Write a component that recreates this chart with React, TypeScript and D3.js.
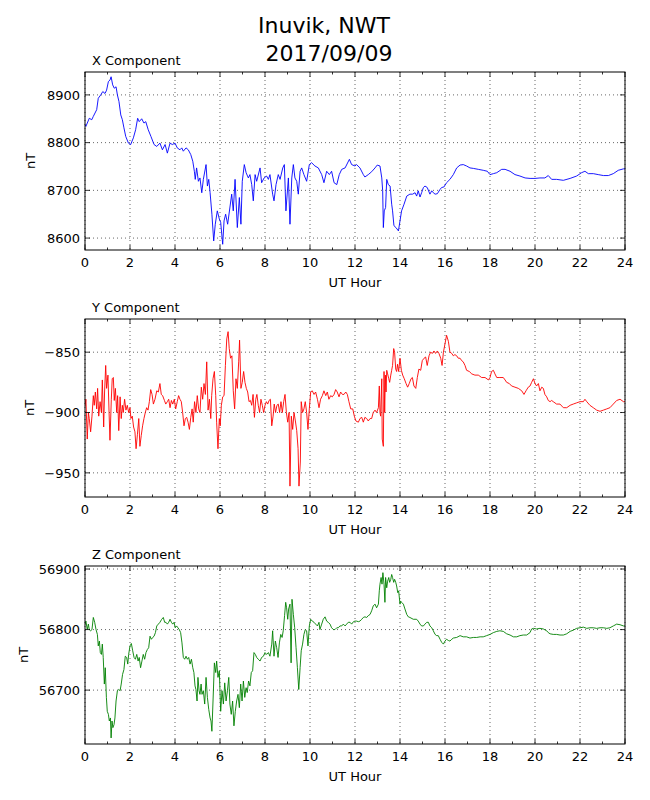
import React from 'react';
import * as d3 from 'd3';

// hourly axis and value ticks
const hourTicks = [0, 2, 4, 6, 8, 10, 12, 14, 16, 18, 20, 22, 24];
const hourMinorTicks = [1, 3, 5, 7, 9, 11, 13, 15, 17, 19, 21, 23];
const xTicks = [8600, 8700, 8800, 8900];
const yTicks = [-950, -900, -850];
const zTicks = [56700, 56800, 56900];

// X component (nT)
const xHours = [0, 0.04, 0.19, 0.3, 0.37, 0.52, 0.59, 0.7, 0.79, 0.89, 0.96, 1.04, 1.11, 1.16, 1.23, 1.3, 1.38, 1.44, 1.51, 1.59, 1.66, 1.73, 1.81, 1.93, 2.03, 2.15, 2.25, 2.34, 2.41, 2.52, 2.62, 2.7, 2.81, 2.93, 3.07, 3.19, 3.33, 3.44, 3.56, 3.66, 3.78, 3.88, 4.0, 4.1, 4.22, 4.3, 4.37, 4.49, 4.59, 4.7, 4.79, 4.86, 4.9, 4.96, 5.04, 5.11, 5.19, 5.26, 5.38, 5.44, 5.5, 5.56, 5.64, 5.72, 5.79, 5.88, 5.97, 6.03, 6.12, 6.18, 6.25, 6.34, 6.52, 6.59, 6.67, 6.77, 6.86, 6.93, 6.99, 7.08, 7.16, 7.26, 7.33, 7.41, 7.48, 7.56, 7.63, 7.78, 7.85, 7.96, 8.07, 8.15, 8.22, 8.34, 8.4, 8.49, 8.59, 8.67, 8.79, 8.86, 8.93, 9.04, 9.11, 9.19, 9.26, 9.33, 9.41, 9.48, 9.56, 9.63, 9.73, 9.85, 9.97, 10.07, 10.22, 10.37, 10.52, 10.62, 10.74, 10.86, 10.96, 11.07, 11.19, 11.3, 11.41, 11.56, 11.75, 11.85, 12.0, 12.07, 12.22, 12.37, 12.44, 12.59, 12.74, 12.89, 12.99, 13.11, 13.19, 13.23, 13.26, 13.3, 13.36, 13.41, 13.48, 13.56, 13.63, 13.67, 13.73, 13.82, 13.93, 14.0, 14.07, 14.18, 14.3, 14.44, 14.56, 14.67, 14.74, 14.81, 14.89, 14.96, 15.04, 15.11, 15.21, 15.33, 15.41, 15.48, 15.56, 15.66, 15.78, 15.85, 15.95, 16.07, 16.22, 16.37, 16.52, 16.67, 16.81, 16.96, 17.11, 17.26, 17.48, 17.7, 17.88, 18.0, 18.15, 18.3, 18.52, 18.67, 18.89, 19.11, 19.33, 19.56, 19.78, 20.0, 20.22, 20.44, 20.59, 20.74, 20.96, 21.26, 21.56, 21.85, 22.07, 22.22, 22.37, 22.59, 22.81, 23.04, 23.26, 23.48, 23.7, 23.93, 24.0];
const xValues = [8838, 8834, 8851, 8848, 8855, 8869, 8893, 8900, 8907, 8903, 8910, 8928, 8931, 8938, 8921, 8914, 8917, 8900, 8886, 8858, 8848, 8831, 8813, 8799, 8796, 8810, 8827, 8851, 8844, 8850, 8841, 8844, 8827, 8813, 8796, 8792, 8799, 8785, 8796, 8778, 8799, 8796, 8799, 8789, 8785, 8789, 8782, 8789, 8785, 8775, 8761, 8740, 8723, 8747, 8719, 8726, 8695, 8723, 8754, 8709, 8723, 8695, 8650, 8594, 8629, 8657, 8640, 8633, 8587, 8636, 8650, 8629, 8692, 8657, 8723, 8622, 8685, 8629, 8719, 8754, 8737, 8726, 8733, 8712, 8678, 8733, 8719, 8747, 8716, 8726, 8730, 8723, 8733, 8692, 8678, 8712, 8733, 8723, 8747, 8754, 8657, 8726, 8629, 8726, 8754, 8726, 8719, 8692, 8740, 8747, 8733, 8719, 8754, 8758, 8751, 8747, 8733, 8716, 8740, 8733, 8740, 8716, 8712, 8733, 8744, 8747, 8765, 8754, 8751, 8754, 8747, 8733, 8728, 8733, 8739, 8747, 8753, 8751, 8726, 8699, 8622, 8657, 8664, 8723, 8712, 8709, 8671, 8657, 8626, 8622, 8615, 8636, 8657, 8671, 8688, 8692, 8692, 8695, 8688, 8699, 8686, 8695, 8706, 8709, 8706, 8692, 8699, 8695, 8692, 8693, 8702, 8706, 8707, 8716, 8723, 8733, 8747, 8753, 8754, 8751, 8747, 8746, 8744, 8742, 8740, 8733, 8735, 8737, 8744, 8744, 8740, 8733, 8730, 8726, 8725, 8725, 8726, 8726, 8731, 8723, 8723, 8721, 8725, 8730, 8737, 8740, 8735, 8735, 8733, 8731, 8731, 8735, 8742, 8745, 8745];

// Y component (nT)
const yHours = [0, 0.04, 0.1, 0.15, 0.19, 0.25, 0.31, 0.37, 0.41, 0.46, 0.52, 0.56, 0.61, 0.67, 0.73, 0.77, 0.83, 0.87, 0.92, 0.96, 1.02, 1.07, 1.11, 1.17, 1.21, 1.26, 1.3, 1.35, 1.41, 1.45, 1.5, 1.56, 1.61, 1.66, 1.7, 1.76, 1.82, 1.88, 1.94, 2.0, 2.04, 2.1, 2.16, 2.22, 2.27, 2.33, 2.39, 2.44, 2.5, 2.56, 2.62, 2.68, 2.74, 2.8, 2.86, 2.92, 2.98, 3.04, 3.11, 3.19, 3.26, 3.33, 3.39, 3.45, 3.53, 3.59, 3.66, 3.72, 3.78, 3.84, 3.9, 3.97, 4.03, 4.1, 4.16, 4.22, 4.28, 4.34, 4.4, 4.46, 4.52, 4.58, 4.64, 4.7, 4.76, 4.81, 4.87, 4.93, 4.99, 5.05, 5.11, 5.17, 5.23, 5.29, 5.35, 5.41, 5.47, 5.53, 5.59, 5.63, 5.69, 5.75, 5.81, 5.85, 5.91, 5.97, 6.01, 6.06, 6.12, 6.18, 6.24, 6.3, 6.36, 6.41, 6.47, 6.53, 6.59, 6.65, 6.71, 6.77, 6.83, 6.87, 6.93, 6.99, 7.05, 7.11, 7.17, 7.23, 7.29, 7.35, 7.41, 7.47, 7.53, 7.59, 7.64, 7.7, 7.76, 7.82, 7.88, 7.94, 8.0, 8.06, 8.12, 8.18, 8.24, 8.3, 8.36, 8.41, 8.47, 8.53, 8.59, 8.65, 8.71, 8.77, 8.83, 8.89, 8.95, 9.01, 9.07, 9.11, 9.17, 9.23, 9.29, 9.35, 9.41, 9.47, 9.51, 9.57, 9.61, 9.67, 9.73, 9.79, 9.85, 9.91, 9.97, 10.03, 10.1, 10.18, 10.25, 10.33, 10.4, 10.47, 10.55, 10.62, 10.7, 10.77, 10.84, 10.92, 10.99, 11.07, 11.14, 11.21, 11.29, 11.36, 11.44, 11.51, 11.59, 11.66, 11.73, 11.81, 11.9, 11.97, 12.04, 12.15, 12.22, 12.3, 12.37, 12.44, 12.52, 12.59, 12.67, 12.74, 12.81, 12.89, 12.96, 13.04, 13.08, 13.11, 13.14, 13.19, 13.21, 13.26, 13.29, 13.32, 13.35, 13.38, 13.41, 13.45, 13.5, 13.54, 13.59, 13.63, 13.67, 13.72, 13.76, 13.81, 13.85, 13.89, 13.94, 14.0, 14.06, 14.12, 14.19, 14.27, 14.34, 14.41, 14.49, 14.55, 14.62, 14.7, 14.77, 14.84, 14.92, 14.99, 15.07, 15.14, 15.21, 15.29, 15.36, 15.44, 15.51, 15.58, 15.66, 15.73, 15.81, 15.87, 15.93, 16.0, 16.07, 16.15, 16.22, 16.3, 16.37, 16.44, 16.52, 16.59, 16.67, 16.74, 16.81, 16.89, 16.96, 17.08, 17.19, 17.33, 17.48, 17.63, 17.78, 17.93, 18.0, 18.07, 18.15, 18.22, 18.3, 18.44, 18.59, 18.67, 18.74, 18.86, 18.96, 19.11, 19.26, 19.41, 19.51, 19.6, 19.7, 19.78, 19.85, 19.93, 20.0, 20.07, 20.15, 20.22, 20.3, 20.37, 20.44, 20.52, 20.59, 20.67, 20.74, 20.81, 20.96, 21.11, 21.26, 21.41, 21.56, 21.7, 21.85, 22.0, 22.15, 22.22, 22.3, 22.44, 22.59, 22.74, 22.89, 23.04, 23.19, 23.33, 23.48, 23.63, 23.78, 23.93, 24.0];
const yValues = [-895, -889, -922, -900, -905, -916, -903, -886, -894, -883, -897, -880, -903, -891, -900, -873, -912, -883, -861, -880, -869, -900, -923, -889, -872, -871, -890, -880, -900, -886, -915, -887, -905, -894, -900, -889, -898, -894, -900, -896, -905, -903, -912, -916, -930, -918, -905, -928, -919, -911, -905, -900, -896, -898, -891, -881, -885, -893, -889, -882, -883, -876, -885, -886, -890, -893, -891, -889, -896, -890, -893, -889, -897, -891, -886, -889, -891, -900, -911, -905, -904, -908, -914, -904, -897, -908, -891, -900, -886, -897, -900, -879, -889, -876, -885, -858, -898, -889, -905, -886, -872, -866, -886, -908, -930, -905, -911, -894, -887, -886, -861, -839, -833, -847, -855, -853, -882, -897, -872, -880, -858, -840, -880, -875, -866, -875, -880, -883, -891, -890, -894, -885, -904, -889, -885, -894, -900, -889, -894, -900, -894, -891, -893, -890, -889, -911, -903, -893, -900, -894, -893, -900, -891, -900, -891, -885, -900, -908, -900, -961, -903, -914, -900, -907, -915, -930, -961, -941, -891, -900, -897, -891, -900, -914, -897, -883, -882, -885, -883, -889, -896, -889, -886, -882, -886, -883, -889, -886, -887, -885, -881, -883, -887, -883, -885, -885, -883, -885, -891, -897, -897, -903, -907, -908, -905, -904, -908, -904, -905, -907, -905, -905, -900, -898, -900, -896, -878, -900, -903, -872, -922, -928, -866, -900, -869, -883, -865, -868, -872, -875, -869, -865, -861, -847, -850, -864, -866, -860, -866, -855, -865, -869, -872, -876, -879, -876, -872, -871, -878, -880, -871, -864, -865, -857, -855, -854, -861, -853, -850, -851, -849, -851, -849, -851, -855, -861, -850, -843, -836, -841, -850, -851, -853, -852, -853, -855, -855, -857, -858, -861, -865, -866, -868, -869, -869, -871, -871, -873, -871, -866, -865, -868, -871, -871, -871, -873, -875, -876, -878, -879, -880, -882, -885, -882, -879, -878, -875, -872, -876, -878, -876, -882, -879, -880, -885, -887, -890, -891, -890, -891, -893, -893, -896, -896, -894, -893, -892, -891, -891, -889, -891, -894, -896, -898, -899, -898, -897, -896, -893, -890, -889, -891, -891];

// Z component (nT)
const zHours = [0, 0.04, 0.1, 0.15, 0.19, 0.25, 0.31, 0.37, 0.43, 0.49, 0.55, 0.59, 0.64, 0.68, 0.73, 0.77, 0.81, 0.86, 0.9, 0.95, 0.99, 1.04, 1.08, 1.13, 1.16, 1.2, 1.24, 1.29, 1.33, 1.38, 1.44, 1.5, 1.56, 1.61, 1.67, 1.73, 1.79, 1.85, 1.9, 1.94, 2.0, 2.06, 2.12, 2.18, 2.24, 2.3, 2.36, 2.41, 2.47, 2.53, 2.59, 2.65, 2.71, 2.77, 2.83, 2.89, 2.95, 3.01, 3.07, 3.13, 3.19, 3.26, 3.33, 3.41, 3.48, 3.54, 3.6, 3.66, 3.72, 3.78, 3.84, 3.9, 3.96, 4.01, 4.07, 4.13, 4.19, 4.25, 4.31, 4.37, 4.43, 4.49, 4.55, 4.61, 4.67, 4.73, 4.79, 4.84, 4.89, 4.93, 4.98, 5.02, 5.07, 5.11, 5.16, 5.2, 5.26, 5.32, 5.38, 5.44, 5.5, 5.56, 5.6, 5.64, 5.69, 5.75, 5.81, 5.85, 5.91, 5.97, 6.03, 6.09, 6.15, 6.21, 6.27, 6.33, 6.39, 6.44, 6.5, 6.56, 6.62, 6.68, 6.74, 6.8, 6.86, 6.92, 6.98, 7.04, 7.1, 7.16, 7.21, 7.27, 7.33, 7.39, 7.45, 7.51, 7.57, 7.63, 7.7, 7.78, 7.85, 7.93, 8.0, 8.07, 8.15, 8.22, 8.3, 8.34, 8.4, 8.46, 8.52, 8.58, 8.64, 8.7, 8.76, 8.81, 8.87, 8.92, 8.96, 9.01, 9.05, 9.11, 9.16, 9.2, 9.26, 9.32, 9.38, 9.44, 9.5, 9.56, 9.61, 9.67, 9.73, 9.79, 9.85, 9.91, 9.97, 10.03, 10.1, 10.18, 10.25, 10.33, 10.4, 10.44, 10.52, 10.59, 10.67, 10.74, 10.81, 10.89, 10.96, 11.04, 11.11, 11.19, 11.26, 11.33, 11.41, 11.48, 11.56, 11.63, 11.7, 11.78, 11.85, 11.93, 12.0, 12.07, 12.15, 12.22, 12.3, 12.37, 12.44, 12.52, 12.59, 12.67, 12.74, 12.81, 12.89, 12.96, 13.04, 13.08, 13.11, 13.16, 13.2, 13.24, 13.29, 13.33, 13.36, 13.41, 13.45, 13.5, 13.54, 13.59, 13.63, 13.67, 13.72, 13.76, 13.81, 13.85, 13.9, 13.94, 14.0, 14.03, 14.07, 14.15, 14.22, 14.3, 14.37, 14.44, 14.59, 14.74, 14.81, 14.89, 14.96, 15.04, 15.11, 15.19, 15.26, 15.33, 15.41, 15.48, 15.56, 15.63, 15.7, 15.78, 15.85, 15.93, 16.0, 16.07, 16.15, 16.22, 16.3, 16.37, 16.52, 16.67, 16.81, 16.96, 17.11, 17.26, 17.41, 17.56, 17.7, 17.85, 18.0, 18.15, 18.3, 18.44, 18.59, 18.74, 18.89, 19.04, 19.19, 19.33, 19.48, 19.63, 19.78, 19.85, 19.93, 20.07, 20.22, 20.37, 20.52, 20.59, 20.67, 20.81, 20.96, 21.11, 21.26, 21.41, 21.56, 21.7, 21.85, 22.0, 22.15, 22.3, 22.44, 22.59, 22.74, 22.89, 23.04, 23.19, 23.33, 23.48, 23.63, 23.78, 23.93, 24.0];
const zValues = [56808, 56814, 56800, 56809, 56800, 56798, 56800, 56820, 56812, 56800, 56792, 56773, 56781, 56762, 56759, 56776, 56754, 56710, 56737, 56688, 56665, 56660, 56649, 56654, 56621, 56649, 56638, 56643, 56654, 56682, 56699, 56701, 56699, 56710, 56726, 56734, 56756, 56754, 56743, 56759, 56773, 56777, 56765, 56754, 56751, 56759, 56748, 56754, 56737, 56748, 56759, 56751, 56762, 56767, 56770, 56789, 56784, 56787, 56789, 56795, 56806, 56809, 56812, 56817, 56820, 56812, 56812, 56809, 56812, 56817, 56812, 56809, 56812, 56803, 56806, 56803, 56800, 56795, 56778, 56754, 56751, 56756, 56751, 56754, 56743, 56751, 56737, 56729, 56707, 56701, 56682, 56721, 56699, 56693, 56710, 56693, 56699, 56677, 56721, 56688, 56668, 56654, 56649, 56632, 56682, 56745, 56729, 56748, 56721, 56732, 56665, 56699, 56677, 56712, 56682, 56699, 56721, 56677, 56660, 56682, 56641, 56665, 56682, 56693, 56671, 56710, 56682, 56715, 56688, 56704, 56696, 56715, 56707, 56729, 56732, 56762, 56759, 56754, 56751, 56748, 56754, 56756, 56762, 56759, 56762, 56756, 56776, 56798, 56756, 56781, 56770, 56754, 56778, 56792, 56787, 56798, 56823, 56845, 56836, 56817, 56834, 56842, 56745, 56850, 56825, 56803, 56770, 56737, 56701, 56737, 56765, 56776, 56792, 56800, 56798, 56773, 56806, 56817, 56814, 56812, 56809, 56806, 56812, 56800, 56809, 56817, 56821, 56814, 56812, 56809, 56803, 56800, 56800, 56803, 56803, 56806, 56806, 56809, 56806, 56809, 56812, 56812, 56809, 56813, 56814, 56814, 56813, 56814, 56817, 56820, 56821, 56820, 56823, 56825, 56831, 56839, 56842, 56836, 56842, 56864, 56875, 56886, 56875, 56894, 56875, 56845, 56886, 56869, 56880, 56886, 56878, 56883, 56891, 56886, 56878, 56883, 56878, 56872, 56861, 56864, 56842, 56847, 56845, 56842, 56834, 56825, 56821, 56820, 56817, 56817, 56814, 56809, 56806, 56806, 56809, 56812, 56812, 56806, 56803, 56798, 56792, 56790, 56790, 56784, 56779, 56776, 56781, 56784, 56782, 56781, 56784, 56786, 56787, 56790, 56788, 56788, 56786, 56787, 56787, 56788, 56788, 56790, 56792, 56795, 56797, 56798, 56797, 56793, 56791, 56788, 56788, 56790, 56791, 56791, 56795, 56801, 56802, 56801, 56802, 56801, 56798, 56795, 56793, 56792, 56792, 56791, 56791, 56793, 56797, 56799, 56802, 56803, 56804, 56802, 56803, 56803, 56802, 56803, 56803, 56802, 56803, 56806, 56809, 56808, 56806, 56806];

const FONT = '"DejaVu Sans", sans-serif';
const left = 85;
const right = 625;
const panelHeight = 178;

type PanelProps = {
  title: string;
  hours: number[];
  values: number[];
  color: string;
  domain: [number, number];
  ticks: number[];
  top: number;
  labelX: number;
  id: string;
};

const fmt = (v: number) => (v < 0 ? '\u2212' + Math.abs(v) : String(v));

const Panel: React.FC<PanelProps> = ({ title, hours, values, color, domain, ticks, top, labelX, id }) => {
  const bottom = top + panelHeight;
  const x = d3.scaleLinear().domain([0, 24]).range([left, right]);
  const y = d3.scaleLinear().domain(domain).range([bottom, top]);
  const line = d3.line<number>()
    .x((_, i) => x(hours[i]))
    .y(d => y(d));

  return (
    <g>
      <defs>
        <clipPath id={id}>
          <rect x={left} y={top} width={right - left} height={panelHeight} />
        </clipPath>
      </defs>
      {/* grid */}
      {hourTicks.map(h => (
        <line key={'gx' + h} x1={x(h)} x2={x(h)} y1={top} y2={bottom}
          stroke="#000" strokeWidth={0.6} strokeDasharray="1,3" />
      ))}
      {ticks.map(t => (
        <line key={'gy' + t} x1={left} x2={right} y1={y(t)} y2={y(t)}
          stroke="#000" strokeWidth={0.6} strokeDasharray="1,3" />
      ))}
      <path d={line(values) || ''} fill="none" stroke={color} strokeWidth={0.9}
        strokeLinejoin="round" clipPath={`url(#${id})`} />
      {/* ticks */}
      {hourTicks.map(h => (
        <g key={'tx' + h}>
          <line x1={x(h)} x2={x(h)} y1={bottom} y2={bottom - 5} stroke="#000" strokeWidth={0.8} />
          <line x1={x(h)} x2={x(h)} y1={top} y2={top + 5} stroke="#000" strokeWidth={0.8} />
          <text x={x(h)} y={bottom + 17} textAnchor="middle" fontSize={13} fontFamily={FONT}>{h}</text>
        </g>
      ))}
      {hourMinorTicks.map(h => (
        <g key={'mx' + h}>
          <line x1={x(h)} x2={x(h)} y1={bottom} y2={bottom - 2.5} stroke="#000" strokeWidth={0.8} />
          <line x1={x(h)} x2={x(h)} y1={top} y2={top + 2.5} stroke="#000" strokeWidth={0.8} />
        </g>
      ))}
      {ticks.map(t => (
        <g key={'ty' + t}>
          <line x1={left} x2={left + 5} y1={y(t)} y2={y(t)} stroke="#000" strokeWidth={0.8} />
          <line x1={right} x2={right - 5} y1={y(t)} y2={y(t)} stroke="#000" strokeWidth={0.8} />
          <text x={left - 5} y={y(t)} dy="0.36em" textAnchor="end" fontSize={13} fontFamily={FONT}>{fmt(t)}</text>
        </g>
      ))}
      <rect x={left} y={top} width={right - left} height={panelHeight} fill="none" stroke="#000" strokeWidth={1} />
      <text x={92} y={top - 7} fontSize={13} fontFamily={FONT}>{title}</text>
      <text x={(left + right) / 2} y={bottom + 37} textAnchor="middle" fontSize={13} fontFamily={FONT}>UT Hour</text>
      <text transform={`translate(${labelX},${(top + bottom) / 2}) rotate(-90)`} textAnchor="middle"
        fontSize={13} fontFamily={FONT}>nT</text>
    </g>
  );
};

const App: React.FC = () => {
  return (
    <svg width={650} height={800} style={{ position: 'absolute', left: 0, top: 0, background: '#fff' }}>
      <rect width={650} height={800} fill="#fff" />
      <text x={324} y={33} textAnchor="middle" fontSize={22} fontFamily={FONT}>Inuvik, NWT</text>
      <text x={329} y={61} textAnchor="middle" fontSize={22} fontFamily={FONT}>2017/09/09</text>
      <Panel id="cx" title="X Component" hours={xHours} values={xValues} color="#0000ff"
        domain={[8575, 8948]} ticks={xTicks} top={72} labelX={35} />
      <Panel id="cy" title="Y Component" hours={yHours} values={yValues} color="#ff0000"
        domain={[-970, -822.5]} ticks={yTicks} top={319} labelX={34} />
      <Panel id="cz" title="Z Component" hours={zHours} values={zValues} color="#008000"
        domain={[56611, 56905]} ticks={zTicks} top={566} labelX={28} />
    </svg>
  );
};

export default App;
